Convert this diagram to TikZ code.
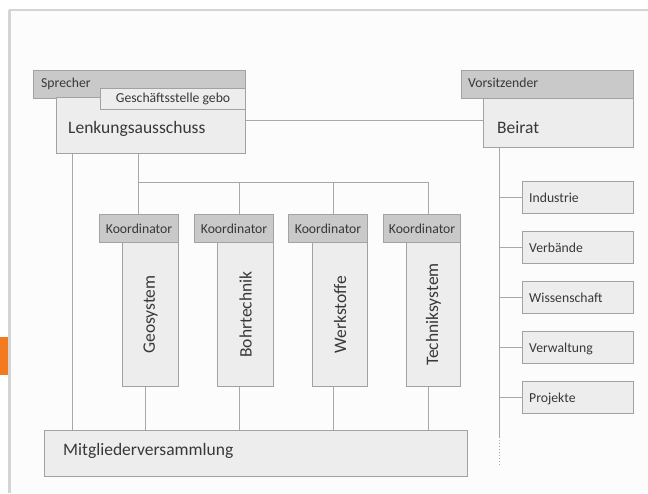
\documentclass[tikz,border=0pt]{standalone}
\usepackage{fontspec}
\setmainfont{Carlito}
\usetikzlibrary{calc}
\definecolor{pagebg}{HTML}{FCFCFC}
\definecolor{framegray}{HTML}{D4D4D4}
\definecolor{boxfill}{HTML}{EDEDED}
\definecolor{headfill}{HTML}{C9C9C9}
\definecolor{boxline}{HTML}{A2A2A2}
\definecolor{connline}{HTML}{A8A8A8}
\definecolor{txt}{HTML}{383838}
\definecolor{accent}{HTML}{F47A20}
\begin{document}
\begin{tikzpicture}[x=1pt,y=-1pt,
  box/.style={draw=boxline, line width=1.1pt, fill=boxfill, anchor=north west, inner sep=0pt, text=txt},
  head/.style={box, fill=headfill},
  small/.style={font=\fontsize{13.7}{15}\selectfont, text=txt},
  big/.style={font=\fontsize{17.5}{20}\selectfont, text=txt},
  txtn/.style={inner sep=0pt, anchor=base west},
  conn/.style={draw=connline, line width=1pt},
]
\useasboundingbox (0,0) rectangle (648,493);
% page frame
\fill[white] (0,0) rectangle (648,493);
\fill[pagebg] (9,10) rectangle (648,493);
\draw[framegray, line width=2pt] (9,10) -- (648,10);
\draw[framegray, line width=3pt] (9,10) -- (9,493);
\fill[accent] (0,337) rectangle (8,375);

% Lenkungsausschuss group
\node[head, minimum width=212pt, minimum height=28pt] (spr) at (33,70) {};
\node[box, minimum width=189pt, minimum height=56pt] (lenk) at (56,97) {};
\node[box, small, minimum width=145pt, minimum height=21pt] (gs) at (100,88) {Geschäftsstelle gebo};
\node[small, txtn] (sprT) at (41,87) {Sprecher};
\node[big, txtn] (lenkT) at (68,133) {Lenkungsausschuss};

% Beirat group
\node[head, minimum width=172pt, minimum height=28pt] (vors) at (461,70) {};
\node[box, minimum width=150pt, minimum height=49pt] (beirat) at (483,98) {};
\node[small, txtn] (vorsT) at (468,87) {Vorsitzender};
\node[big, txtn] (beiratT) at (497,133) {Beirat};

% Mitgliederversammlung
\node[box, minimum width=423pt, minimum height=46pt] (mv) at (44,430) {};
\node[big, txtn] (mvT) at (63,455) {Mitgliederversammlung};

% working groups
\node[box, minimum width=56pt, minimum height=144pt] (t1) at (122,242) {};
\node[box, minimum width=56pt, minimum height=144pt] (t2) at (217,242) {};
\node[box, minimum width=55pt, minimum height=144pt] (t3) at (312,242) {};
\node[box, minimum width=54pt, minimum height=144pt] (t4) at (406,242) {};
\node[head, small, minimum width=79pt, minimum height=28pt] (k1) at (99,214) {Koordinator};
\node[head, small, minimum width=79pt, minimum height=28pt] (k2) at (194,214) {Koordinator};
\node[head, small, minimum width=79pt, minimum height=28pt] (k3) at (288,214) {Koordinator};
\node[head, small, minimum width=77pt, minimum height=28pt] (k4) at (383,214) {Koordinator};
\node[big, rotate=90, inner sep=0pt] (t1T) at (t1.center) {Geosystem};
\node[big, rotate=90, inner sep=0pt] (t2T) at (t2.center) {Bohrtechnik};
\node[big, rotate=90, inner sep=0pt] (t3T) at (t3.center) {Werkstoffe};
\node[big, rotate=90, inner sep=0pt] (t4T) at (t4.center) {Techniksystem};

% connectors: Lenkungsausschuss
\draw[conn] (lenk.east |- 0,120) -- (beirat.west |- 0,120);
\draw[conn] (lenk.south -| 72,0) -- (mv.north -| 72,0);
\coordinate (b1) at (138,182);
\coordinate (b2) at (239,182);
\coordinate (b3) at (333,182);
\coordinate (b4) at (428,182);
\draw[conn] (lenk.south -| b1) -- (b1) -- (b4);
\draw[conn] (b1) -- (k1.north -| b1);
\draw[conn] (b2) -- (k2.north -| b2);
\draw[conn] (b3) -- (k3.north -| b3);
\draw[conn] (b4) -- (k4.north -| b4);
\draw[conn] (t1.south -| 145,0) -- (mv.north -| 145,0);
\draw[conn] (t2.south -| b2) -- (mv.north -| b2);
\draw[conn] (t3.south -| b3) -- (mv.north -| b3);
\draw[conn] (t4.south -| b4) -- (mv.north -| b4);

% Beirat members
\coordinate (trunk) at (499,0);
\coordinate (trunkend) at (499,437);
\coordinate (trunkdot) at (499,465);
\draw[conn] (beirat.south -| trunk) -- (trunkend);
\draw[conn, dotted] (trunkend) -- (trunkdot);
\foreach \t [count=\i from 0] in {Industrie,Verbände,Wissenschaft,Verwaltung,Projekte} {
  \node[box, minimum width=111pt, minimum height=32pt] (r\i) at (522,{181+50*\i}) {};
  \node[small, txtn] (rt\i) at ($(r\i.north west)+(7,21)$) {\t};
  \draw[conn] (r\i.west) -- (r\i.west -| trunk);
}
\end{tikzpicture}
\end{document}
